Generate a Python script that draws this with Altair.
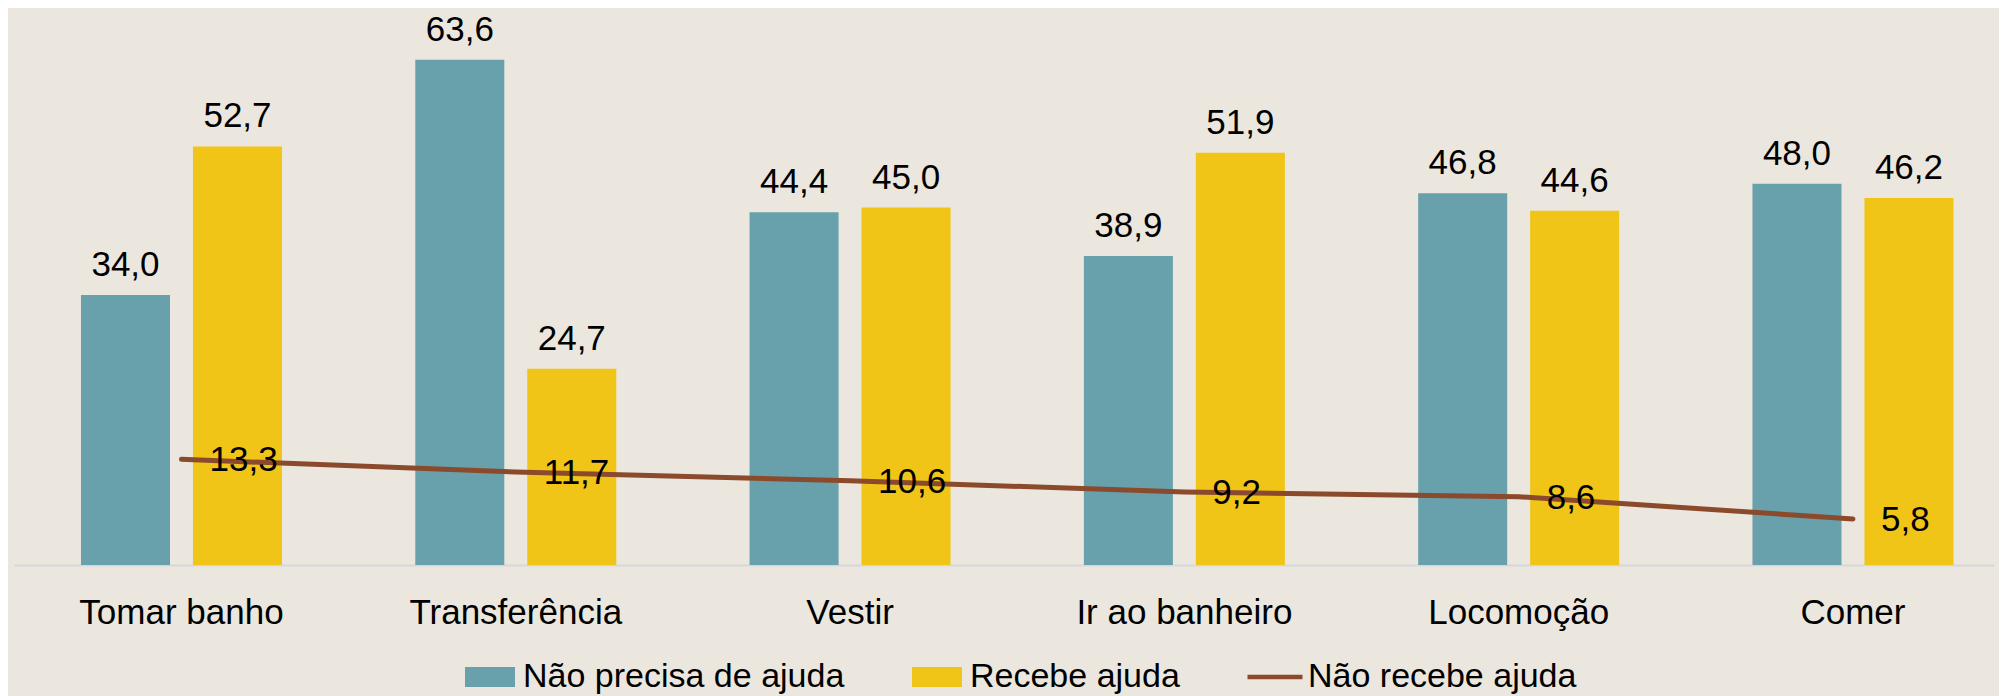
import altair as alt
import pandas as pd

categories = ["Tomar banho", "Transferência", "Vestir", "Ir ao banheiro", "Locomoção", "Comer"]
series_names = ["Não precisa de ajuda", "Recebe ajuda", "Não recebe ajuda"]
nao_precisa = [34.0, 63.6, 44.4, 38.9, 46.8, 48.0]
recebe = [52.7, 24.7, 45.0, 51.9, 44.6, 46.2]
nao_recebe = [13.3, 11.7, 10.6, 9.2, 8.6, 5.8]

colors = ["#68A1AB", "#F1C418", "#8B4A2B"]
FONT = "Liberation Sans"
FS = 35

bars_df = pd.DataFrame(
    [{"cat": c, "serie": series_names[0], "v": v} for c, v in zip(categories, nao_precisa)]
    + [{"cat": c, "serie": series_names[1], "v": v} for c, v in zip(categories, recebe)]
)
line_df = pd.DataFrame([{"cat": c, "serie": series_names[2], "v": v} for c, v in zip(categories, nao_recebe)])

label_expr = "replace(format(datum.v, '.1f'), '.', ',')"

x_enc = alt.X(
    "cat:N",
    sort=categories,
    scale=alt.Scale(paddingInner=0.3987, paddingOuter=0.1608, align=0.623, round=False),
    axis=alt.Axis(
        title=None, labelAngle=0, ticks=False, labelPadding=30, labelFontSize=FS,
        labelFont=FONT, labelColor="#000000", domainColor="#D6D7DB", domainWidth=2,
        labelLimit=1000,
    ),
)
y_enc = alt.Y("v:Q", scale=alt.Scale(domain=[0, 70], nice=False), axis=None)
xo = alt.XOffset("serie:N", sort=series_names[:2], scale=alt.Scale(paddingInner=0.205, paddingOuter=0))

shape_expr = (
    "datum.value === 'Não recebe ajuda' ? 'M-1.1,-0.09H1.1V0.09H-1.1Z' : 'M-1,-0.4H1V0.4H-1Z'"
)

color_enc = alt.Color(
    "serie:N",
    scale=alt.Scale(domain=series_names, range=colors),
    legend=alt.Legend(
        title=None, orient="none", legendX=451, legendY=643, direction="horizontal",
        labelFontSize=34, labelFont=FONT, labelColor="#000000", labelOffset=8,
        symbolSize=2500, columnPadding=67, labelLimit=600,
        symbolType=alt.ExprRef(expr=shape_expr),
        symbolStrokeWidth=0, symbolOpacity=1,
    ),
)

bars = alt.Chart(bars_df).mark_bar().encode(x=x_enc, y=y_enc, xOffset=xo, color=color_enc)
bar_labels = alt.Chart(bars_df).transform_calculate(lab=label_expr).mark_text(
    baseline="alphabetic", dy=-19, fontSize=FS, font=FONT, color="#000000"
).encode(x=x_enc, y=y_enc, xOffset=xo, text="lab:N")

line = alt.Chart(line_df).mark_line(strokeWidth=5, strokeCap="round").encode(
    x=x_enc, y=y_enc, color=color_enc
)
line_labels = alt.Chart(line_df).transform_calculate(lab=label_expr).mark_text(
    align="left", baseline="middle", dx=28, dy=1, fontSize=FS, font=FONT, color="#000000"
).encode(x=x_enc, y=y_enc, text="lab:N")

chart = alt.layer(bars, bar_labels, line, line_labels).properties(
    width=1980, height=556,
    autosize=alt.AutoSizeParams(type="none"),
    padding={"left": 6, "top": 1, "right": 5, "bottom": 131},
    background="#EBE7DE",
).configure_view(stroke=None)

chart.save("out.html", embed_options={"renderer": "svg", "actions": False})
